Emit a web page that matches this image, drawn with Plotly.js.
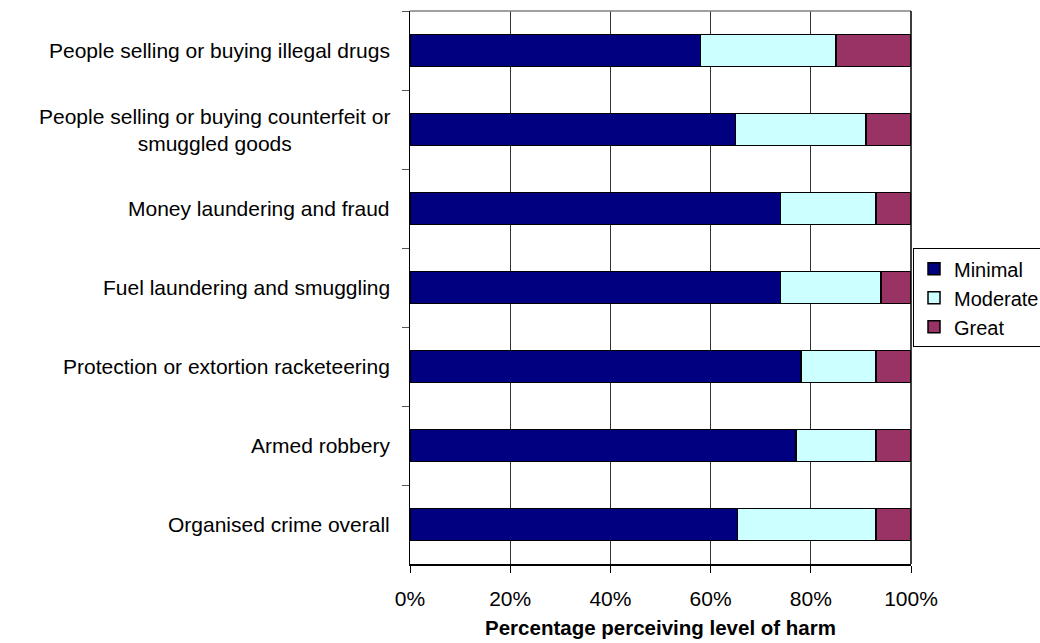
<!DOCTYPE html>
<html>
<head>
<meta charset="utf-8">
<script src="https://cdn.plot.ly/plotly-3.0.1.min.js"></script>
<style>html,body{margin:0;padding:0;background:#fff;}#chart{width:1040px;height:643px;}</style>
</head>
<body>
<div id="chart"></div>
<script>
// Categories listed top to bottom as in the reference
const categories = [
  "People selling or buying illegal drugs",
  "People selling or buying counterfeit or<br>smuggled goods",
  "Money laundering and fraud",
  "Fuel laundering and smuggling",
  "Protection or extortion racketeering",
  "Armed robbery",
  "Organised crime overall"
];
const seriesNames = ["Minimal", "Moderate", "Great"];
const minimal  = [58, 65, 74, 74, 78, 77, 65.4];
const moderate = [27, 26, 19, 20, 15, 16, 27.6];
const great    = [15,  9,  7,  6,  7,  7,  7];
const xTickVals = [0, 20, 40, 60, 80, 100];
const xTickText = ["0%", "20%", "40%", "60%", "80%", "100%"];
const xTitle = "Percentage perceiving level of harm";

const colors = ["#000080", "#CCFFFF", "#993366"];
const values = [minimal, moderate, great];
const FONT = "Liberation Sans, Arial, sans-serif";

const traces = values.map((v, i) => ({
  type: "bar",
  orientation: "h",
  name: seriesNames[i],
  x: v,
  y: categories,
  marker: {color: colors[i], line: {color: "#000000", width: 1.5}},
  hoverinfo: "x+name"
}));

const annotations = categories.map(c => ({
  text: c,
  xref: "paper", yref: "y",
  x: -0.035, y: c,
  xanchor: "right", yanchor: "middle",
  align: "center",
  showarrow: false,
  font: {family: FONT, size: 21, color: "#000"}
}));

const layout = {
  width: 1040, height: 643,
  margin: {l: 410, r: 129, t: 11, b: 79, pad: 0, autoexpand: false},
  paper_bgcolor: "#ffffff",
  plot_bgcolor: "#ffffff",
  barmode: "stack",
  bargap: 0.595,
  font: {family: FONT, size: 21, color: "#000"},
  xaxis: {
    range: [0, 100],
    tickvals: xTickVals,
    ticktext: xTickText,
    showgrid: true,
    gridcolor: "#333333",
    gridwidth: 1,
    zeroline: false,
    showline: true,
    linecolor: "#000000",
    linewidth: 1.5,
    ticks: "outside",
    ticklen: 7,
    tickcolor: "#000000",
    ticklabelstandoff: 8,
    tickfont: {family: FONT, size: 21, color: "#000"},
    title: {text: xTitle, font: {family: FONT, size: 20.5, color: "#000", weight: "bold"}, standoff: 12},
    automargin: false,
    fixedrange: true
  },
  yaxis: {
    type: "category",
    autorange: "reversed",
    showticklabels: false,
    showgrid: false,
    zeroline: false,
    showline: true,
    linecolor: "#000000",
    linewidth: 1.5,
    ticks: "outside",
    tickson: "boundaries",
    ticklen: 7,
    tickcolor: "#555555",
    automargin: false,
    fixedrange: true
  },
  shapes: [
    {type: "line", xref: "paper", yref: "paper", x0: 0, x1: 1, y0: 1, y1: 1, line: {color: "#808080", width: 1.5}},
    {type: "line", xref: "paper", yref: "paper", x0: 1, x1: 1, y0: 0, y1: 1, line: {color: "#000000", width: 1.5}}
  ],
  annotations: annotations,
  showlegend: true,
  legend: {
    x: 1.004, xanchor: "left",
    y: 0.571, yanchor: "top",
    bgcolor: "#ffffff",
    bordercolor: "#000000",
    borderwidth: 1,
    traceorder: "normal",
    font: {family: FONT, size: 20, color: "#000"},
    tracegroupgap: 0
  }
};

Plotly.newPlot("chart", traces, layout, {displayModeBar: false, staticPlot: true});
</script>
</body>
</html>
